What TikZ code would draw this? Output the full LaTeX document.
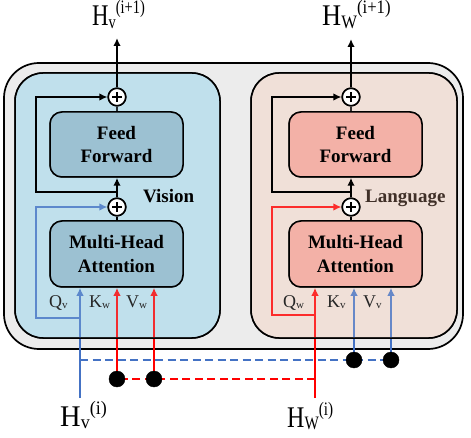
\documentclass[tikz,border=0pt]{standalone}
\usepackage{fontspec}
\setmainfont{Liberation Serif}
\usepackage{graphicx}
\usetikzlibrary{arrows.meta}

\definecolor{shellgray}{RGB}{236,236,236}
\definecolor{visbg}{RGB}{192,224,236}
\definecolor{visbox}{RGB}{156,193,210}
\definecolor{lanbg}{RGB}{240,224,216}
\definecolor{lanbox}{RGB}{243,177,167}
\definecolor{qblue}{RGB}{68,114,196}
\definecolor{qred}{RGB}{255,0,0}
\definecolor{langtext}{RGB}{64,48,40}
\definecolor{qkvtext}{RGB}{38,38,38}

\newcommand{\hstate}[3][0.76]{\scalebox{#1}[1]{\fontsize{30}{30}\selectfont H\raisebox{-2.5pt}{\fontsize{19}{19}\selectfont #2}\raisebox{12pt}{\fontsize{19}{19}\selectfont (#3)}}}
\newcommand{\qkvlab}[2]{#1\raisebox{-1.5pt}{\fontsize{11}{11}\selectfont #2}}

\tikzset{
  panel/.style={draw, line width=1.5pt, rounded corners=28pt, minimum width=205pt, minimum height=265pt, inner sep=0pt},
  blockbox/.style={draw, line width=1.5pt, rounded corners=12pt, minimum width=133pt, minimum height=65pt, align=center, inner sep=0pt, font=\fontsize{19}{23.5}\selectfont\bfseries},
  addnode/.style={draw, circle, fill=white, line width=1.6pt, minimum size=17.5pt, inner sep=0pt,
    path picture={\draw[line width=2.3pt] ([xshift=-5pt]path picture bounding box.center) -- ([xshift=5pt]path picture bounding box.center)
      ([yshift=-5pt]path picture bounding box.center) -- ([yshift=5pt]path picture bounding box.center);}},
  junction/.style={draw, circle, fill=black, minimum size=16pt, inner sep=0pt},
  wire/.style={line width=2.4pt},
  arr/.style={-{Latex[length=8pt, width=7.5pt]}},
  dashwire/.style={line width=2.2pt, dash pattern=on 8pt off 4.5pt},
  qkv/.style={anchor=base west, inner sep=0pt, text=qkvtext, font=\fontsize{18}{18}\selectfont},
  hlab/.style={anchor=base west, inner sep=0pt},
}

\begin{document}
\begin{tikzpicture}[x=1pt, y=-1pt]
  \useasboundingbox (0,0) rectangle (471,438);

  % frames
  \node[draw, line width=1.7pt, rounded corners=35pt, fill=shellgray, minimum width=459pt, minimum height=286pt] (shell) at (233.5,206) {};
  \node[panel, fill=visbg] (visp) at (117.5,205.5) {};
  \node[panel, fill=lanbg, minimum width=206pt] (lanp) at (354,205.5) {};

  % blocks
  \node[blockbox, fill=visbox] (ffv) at (116.5,144.5) {Feed\\Forward};
  \node[blockbox, fill=visbox, minimum height=66pt] (mhav) at (116.5,254) {Multi-Head\\Attention};
  \node[blockbox, fill=lanbox] (ffw) at (355.5,144.5) {Feed\\Forward};
  \node[blockbox, fill=lanbox, minimum height=66pt] (mhaw) at (355.5,254) {Multi-Head\\Attention};

  % add nodes
  \node[addnode] (av1) at (117,207) {};
  \node[addnode] (av2) at (117,97) {};
  \node[addnode] (aw1) at (351,207) {};
  \node[addnode] (aw2) at (351,97) {};

  % points of the wires
  \coordinate (hv) at (80,398);
  \coordinate (hw) at (315,398);
  \coordinate (qvb) at (80,318);
  \coordinate (qvc) at (36,318);
  \coordinate (qwb) at (315,315);
  \coordinate (qwc) at (272,315);
  \coordinate (qvd) at (80,360);
  \coordinate (qwd) at (315,379);
  \coordinate (dkw) at (117,379);
  \coordinate (dvw) at (154,379);
  \coordinate (dkv) at (354,360);
  \coordinate (dvv) at (391,360);
  \coordinate (rv) at (117,192);
  \coordinate (rvc) at (36,192);
  \coordinate (rw) at (351,192);
  \coordinate (rwc) at (272,192);
  \coordinate (ov) at (117,38);
  \coordinate (ow) at (351,39);

  % query, key and value wires
  \draw[wire, qblue, arr] (hv) -- (hv |- mhav.south);
  \draw[wire, qblue, arr] (qvb) -- (qvc) |- (av1);
  \draw[dashwire, qblue] (qvd) -- (dvv);
  \draw[wire, qblue, arr] (dkv) -- (dkv |- mhaw.south);
  \draw[wire, qblue, arr] (dvv) -- (dvv |- mhaw.south);

  \draw[wire, qred, arr] (hw) -- (hw |- mhaw.south);
  \draw[wire, qred, arr] (qwb) -- (qwc) |- (aw1);
  \draw[dashwire, qred] (qwd) -- (dkw);
  \draw[wire, qred, arr] (dkw) -- (dkw |- mhav.south);
  \draw[wire, qred, arr] (dvw) -- (dvw |- mhav.south);

  \draw[wire] (av2 |- ffv.north) -- (av2);
  \draw[wire] (aw2 |- ffw.north) -- (aw2);

  % wash of the panels over the wires
  \node[panel, fill=visbg, fill opacity=0.2] at (117.5,205.5) {};
  \node[panel, fill=lanbg, fill opacity=0.2, minimum width=206pt] at (354,205.5) {};

  \node[blockbox, fill=visbox] (ffv) at (116.5,144.5) {Feed\\Forward};
  \node[blockbox, fill=visbox, minimum height=66pt] (mhav) at (116.5,254) {Multi-Head\\Attention};
  \node[blockbox, fill=lanbox] (ffw) at (355.5,144.5) {Feed\\Forward};
  \node[blockbox, fill=lanbox, minimum height=66pt] (mhaw) at (355.5,254) {Multi-Head\\Attention};
  \node[addnode] (av1) at (117,207) {};
  \node[addnode] (av2) at (117,97) {};
  \node[addnode] (aw1) at (351,207) {};
  \node[addnode] (aw2) at (351,97) {};

  % residual wires
  \draw[wire] (av1 |- mhav.north) -- (av1);
  \draw[wire, arr] (av1) -- (av1 |- ffv.south);
  \draw[wire, arr] (rv) -- (rvc) |- (av2);
  \draw[wire, arr] (av2) -- (ov);

  \draw[wire] (aw1 |- mhaw.north) -- (aw1);
  \draw[wire, arr] (aw1) -- (aw1 |- ffw.south);
  \draw[wire, arr] (rw) -- (rwc) |- (aw2);
  \draw[wire, arr] (aw2) -- (ow);

  \node[junction] at (dkw) {};
  \node[junction] at (dvw) {};
  \node[junction] at (dkv) {};
  \node[junction] at (dvv) {};

  % names
  \node[hlab] (hvout) at (92,26) {\hstate{v}{i+1}};
  \node[hlab] (hwout) at (322,26) {\hstate[0.88]{W}{i+1}};
  \node[hlab] (hvin) at (60,426) {\hstate[0.95]{v}{i}};
  \node[hlab] (hwin) at (287,427) {\hstate[0.8]{W}{i}};

  \node[qkv] (lqv) at (49,307) {\qkvlab{Q}{v}};
  \node[qkv] (lkw) at (89,307) {\qkvlab{K}{w}};
  \node[qkv] (lvw) at (126,307) {\qkvlab{V}{w}};
  \node[qkv] (lqw) at (283,307) {\qkvlab{Q}{w}};
  \node[qkv] (lkv) at (327,307) {\qkvlab{K}{v}};
  \node[qkv] (lvv) at (363,307) {\qkvlab{V}{v}};

  \node[anchor=base west, inner sep=0pt, font=\fontsize{19}{19}\selectfont\bfseries] (vis) at (143,203) {Vision};
  \node[anchor=base west, inner sep=0pt, text=langtext, font=\fontsize{19}{19}\selectfont\bfseries] (lan) at (365,203) {Language};

\end{tikzpicture}
\end{document}
